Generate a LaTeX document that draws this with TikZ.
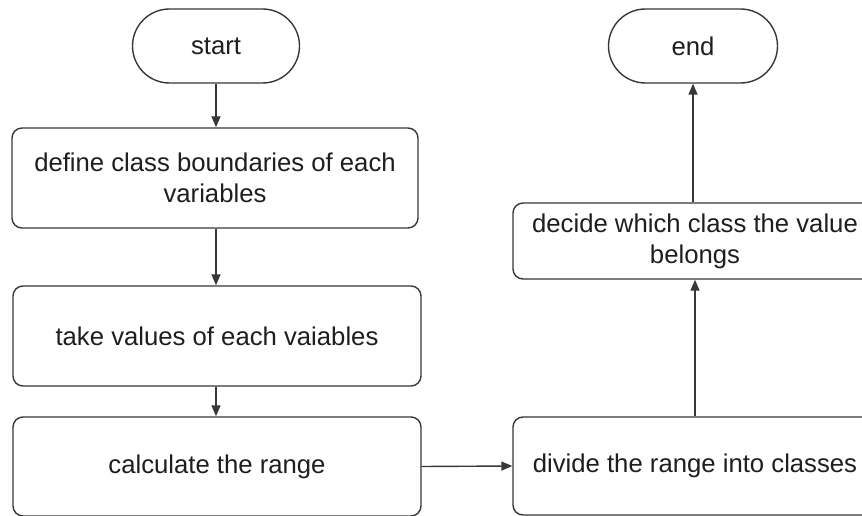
\documentclass[tikz,border=0pt]{standalone}
\usepackage{fontspec}
\setmainfont{Liberation Sans}
\usetikzlibrary{arrows.meta,shapes.misc}
\definecolor{edge}{HTML}{383838}
\definecolor{ink}{HTML}{1E1E1E}
\begin{document}
\begin{tikzpicture}[x=1pt,y=-1pt,
  every node/.style={font=\fontsize{25.7}{31}\selectfont, text=ink, align=center, inner sep=0pt},
  terminal/.style={draw=edge, line width=1.4pt, rounded rectangle, minimum width=167pt, minimum height=74pt},
  stepbox/.style={draw=edge, line width=1.4pt, rounded corners=10pt, rectangle},
  flow/.style={draw=edge, line width=1.4pt, -{Triangle[length=11pt,width=9pt]}}]
  \clip (0,0) rectangle (862,516);
  \fill[white] (0,0) rectangle (862,516);

  % left column
  \node[terminal] (start) at (216,46) {start};
  \node[stepbox, minimum width=406pt, minimum height=100pt] (define) at (215,178)
    {define class boundaries of each\\variables};
  \node[stepbox, minimum width=408pt, minimum height=100pt] (take) at (217,336)
    {take values of each vaiables};
  \node[stepbox, minimum width=408pt, minimum height=99pt] (calc) at (217,466.5)
    {calculate the range};

  % right column
  \node[stepbox, minimum width=364pt, minimum height=98pt] (divide) at (695,466)
    {divide the range into classes};
  \node[stepbox, minimum width=364pt, minimum height=76pt] (decide) at (695,241)
    {decide which class the value\\belongs};
  \node[terminal, minimum width=169pt] (end) at (693,46) {end};

  % connectors
  \draw[flow] (start.south) -- (start.south |- define.north);
  \draw[flow] (define.south -| start.south) -- (take.north -| start.south);
  \draw[flow] (take.south -| start.south) -- (calc.north -| start.south);
  \draw[flow] (calc.east) -- (divide.west);
  \draw[flow] (divide.north) -- (decide.south);
  \draw[flow] (decide.north -| end.south) -- (end.south);
\end{tikzpicture}
\end{document}
